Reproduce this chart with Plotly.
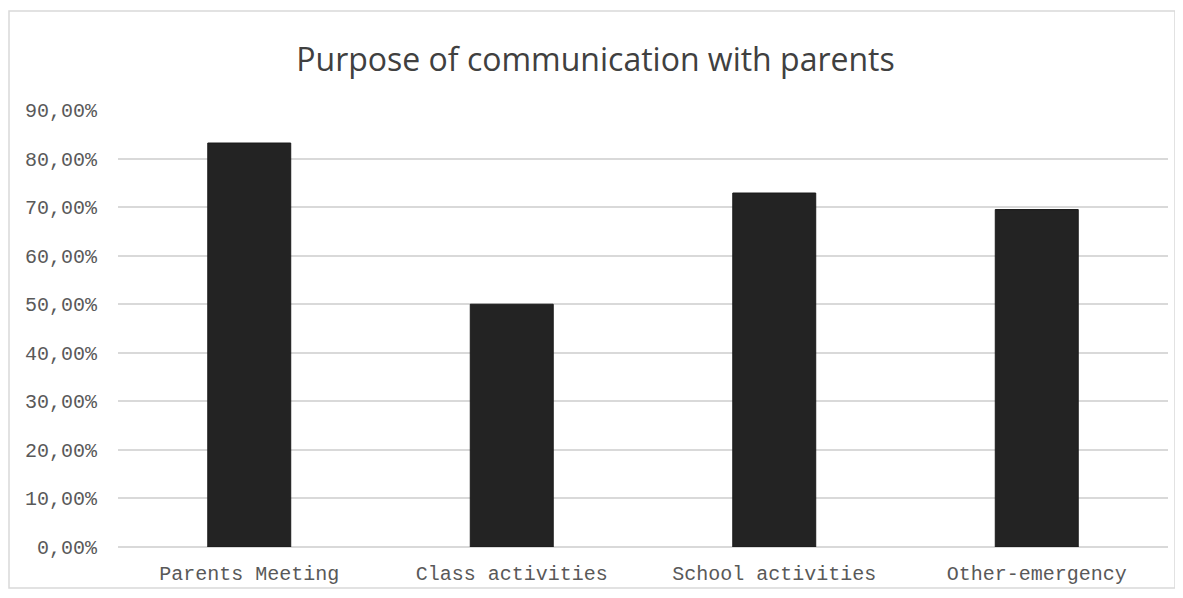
import plotly.graph_objects as go

categories = ["Parents Meeting", "Class activities", "School activities", "Other-emergency"]
values = [0.832, 0.50, 0.729, 0.695]
tick_vals = [0, 0.1, 0.2, 0.3, 0.4, 0.5, 0.6, 0.7, 0.8, 0.9]
tick_text = ["0,00%", "10,00%", "20,00%", "30,00%", "40,00%", "50,00%", "60,00%", "70,00%", "80,00%", "90,00%"]

fig = go.Figure(go.Bar(
    x=categories, y=values, width=0.316,
    marker=dict(color="#232323", line=dict(color="#1a1a1a", width=1)),
))

# page body has an 8px margin, so the figure is laid out 8px up/left
OFF = 8
W, H = 1175, 590
L, R, T, B = 110, 15, 102, 51
pw, ph = W - L - R, H - T - B

def px(x):
    return (x - OFF - L) / pw

def py(y):
    return (H - B - (y - OFF)) / ph

fig.update_layout(
    width=W, height=H,
    margin=dict(l=L, r=R, t=T, b=B, autoexpand=False),
    paper_bgcolor="white", plot_bgcolor="white",
    title=dict(text="Purpose of communication with parents", x=0.5, xanchor="center",
               y=1 - 52 / H, yanchor="middle",
               font=dict(family="Open Sans", size=32, color="#404040")),
    showlegend=False,
    xaxis=dict(showgrid=False, showline=False, ticks="",
               ticklabelstandoff=12,
               tickfont=dict(family="Liberation Mono", size=20, color="#595959")),
    yaxis=dict(range=[0, 0.9], tickvals=tick_vals, ticktext=tick_text,
               showgrid=True, gridcolor="#d9d9d9", gridwidth=1.5,
               zeroline=True, zerolinecolor="#d9d9d9", zerolinewidth=1.5,
               ticklabelstandoff=20,
               tickfont=dict(family="Liberation Mono", size=20, color="#595959")),
    shapes=[dict(type="rect", xref="paper", yref="paper",
                 x0=px(9), x1=px(1175), y0=py(588), y1=py(11),
                 line=dict(color="#d9d9d9", width=1.5), layer="below")],
)

fig.write_html("out.html")
